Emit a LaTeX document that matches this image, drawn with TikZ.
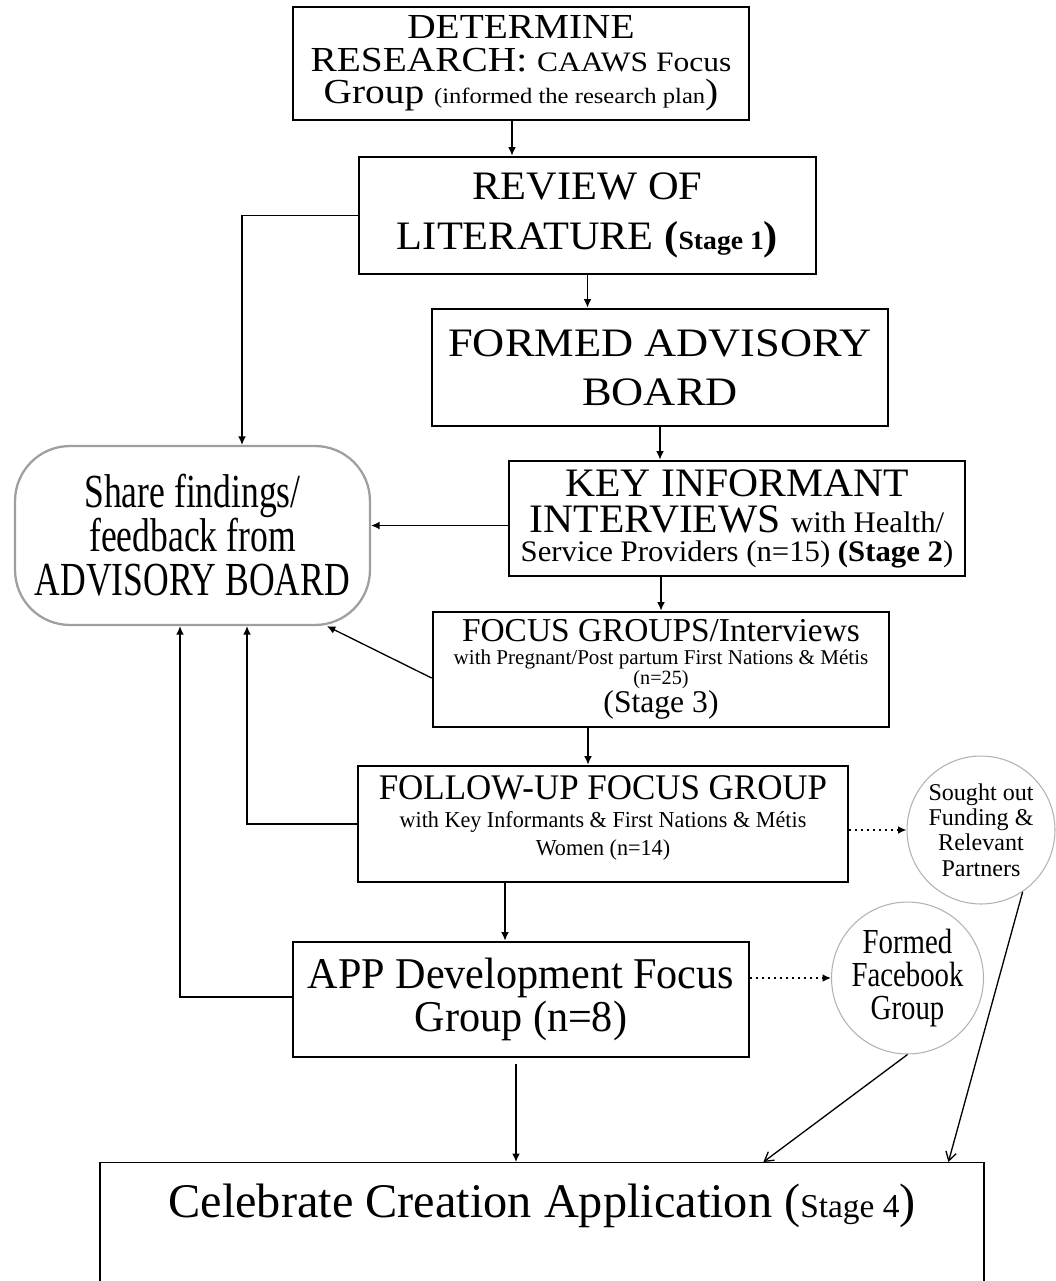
\documentclass[tikz,border=0pt]{standalone}
\usepackage{fontspec}
\setmainfont{Liberation Serif}
\usetikzlibrary{arrows.meta,calc}

\newcommand{\boxfont}[3]{\addfontfeatures{FakeStretch=#1}\fontsize{#2}{#3}\selectfont\lineskiplimit=-30pt}
\newcommand{\sz}[2]{\fontsize{#1}{#2}\selectfont}

\tikzset{
  stage/.style={draw, line width=1.6pt, inner sep=0pt, align=center, minimum width=9.12cm, minimum height=2.3cm},
  share/.style={draw=gray!75, line width=1.3pt, rounded corners=1.1cm, align=center, minimum width=7.1cm, minimum height=3.58cm, inner sep=0pt},
  bubble/.style={circle, draw=gray!60, line width=0.6pt, align=center, inner sep=0pt},
  arr/.style={-{Latex[length=4.8pt,width=4.4pt]}, line width=0.75pt},
  dotarr/.style={arr, dash pattern=on 1pt off 2.4pt, line width=0.9pt},
  openarr/.style={-{Straight Barb[length=5pt,width=6pt]}, line width=0.75pt},
}

\begin{document}
\begin{tikzpicture}[x=0.02cm, y=-0.02cm]
\useasboundingbox (0,0) rectangle (1055,1281);

%the stages
\node[stage, minimum height=2.26cm, font=\boxfont{1.12}{20}{18.6}] (det) at (521,63.5)
  {DETERMINE\\ RESEARCH: {\sz{16}{18.6}CAAWS Focus}\\ Group {\sz{12.5}{18.6}(informed the research plan})};
\node[stage, minimum width=9.14cm, minimum height=2.34cm, font=\boxfont{1.05}{23}{28.5}] (review) at (587.5,215.5)
  {REVIEW OF\\ LITERATURE \textbf{(}{\bfseries\sz{15}{28.5}Stage 1}\textbf{)}};
\node[stage, minimum height=2.34cm, font=\boxfont{1.1}{23}{27.8}] (board) at (660,367.5)
  {FORMED ADVISORY\\ BOARD};
\node[stage, font=\boxfont{1.03}{23}{21}] (key) at (737,518.5)
  {KEY INFORMANT\\ INTERVIEWS {\sz{17}{21}with Health/}\\[-5pt] {\sz{17}{21}Service Providers (n=15) \textbf{(Stage 2})}};
\node[stage, font=\boxfont{1}{19}{13}] (focus) at (661,669.5)
  {FOCUS GROUPS/Interviews\\ {\sz{12}{13}with Pregnant/Post partum First Nations \& Métis}\\[-1.7pt] {\sz{11.5}{13}(n=25)}\\[3pt] {\sz{18}{13}(Stage 3)}};
\node[stage, minimum width=9.8cm, minimum height=2.32cm, font=\boxfont{0.97}{20.5}{16}] (follow) at (603,824)
  {FOLLOW-UP FOCUS GROUP\\ {\sz{13}{16}with Key Informants \& First Nations \& Métis}\\ {\sz{13}{16}Women (n=14)}\rule[-10pt]{0pt}{0pt}};
\node[stage, font=\boxfont{0.96}{25}{24.4}] (app) at (521,999.5)
  {APP Development Focus\\ Group (n=8)};

%feedback and side steps
\node[share, font=\boxfont{0.75}{27}{25}] (share) at (192.5,535.5)
  {Share findings/\\ feedback from\\ ADVISORY BOARD};
\node[bubble, minimum size=2.96cm, font=\boxfont{1}{13.7}{14.5}] (funding) at (981,830)
  {Sought out\\ Funding \&\\ Relevant\\ Partners};
\node[bubble, minimum size=3.04cm, font=\boxfont{0.82}{20}{19}] (facebook) at (907.5,978)
  {Formed\\ Facebook\\ Group};

%final box, runs off the page
\node[draw, line width=0.8pt, anchor=north, minimum width=17.68cm, inner xsep=0pt, inner ysep=12pt, font=\boxfont{1}{27.5}{30}] (celebrate) at (542,1162)
  {Celebrate Creation Application ({\sz{19}{20}Stage 4})\rule[-150pt]{0pt}{0pt}};

%main line
\draw[arr] ($(det.south)+(-9,0)$) coordinate (d1) -- (d1 |- review.north);
\draw[arr] (review.south) -- (review.south |- board.north);
\draw[arr] (board.south) -- (board.south |- key.north);
\draw[arr] (key.south -| focus.north) -- (focus.north);
\draw[arr] ($(focus.south)+(-73,0)$) -- ($(follow.north)+(-15,0)$);
\draw[arr] ($(follow.south)+(-98,0)$) -- ($(app.north)+(-16,0)$);
\draw[arr] ($(app.south)+(-5,6)$) coordinate (a1) -- (a1 |- celebrate.north);

%back to the advisory board
\draw[arr] (review.west) -| ($(share.north)+(49.5,0)$);
\draw[arr] ($(key.west)+(0,7)$) coordinate (k1) -- (k1 -| share.east);
\draw[arr] ($(focus.west)+(0,8.5)$) -- (share.-34);
\draw[arr] (follow.west) -| ($(share.south)+(54.5,0)$);
\draw[arr] ($(app.west)+(0,-2.5)$) -| ($(share.south)+(-12.5,0)$);

%side steps
\draw[dotarr] ($(follow.east)+(0,6)$) -- (funding.west);
\draw[dotarr] (app.east |- facebook.west) -- (facebook.west);
\draw[openarr] (facebook.south) -- ($(celebrate.north west)+(664,0)$);
\draw[openarr] (funding.-56) -- ($(celebrate.north west)+(849,0)$);
\end{tikzpicture}
\end{document}
